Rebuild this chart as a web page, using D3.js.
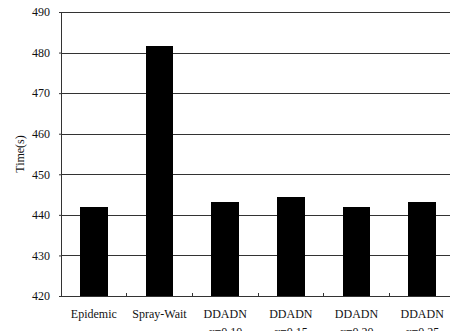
<!DOCTYPE html>
<html>
<head>
<meta charset="utf-8">
<script src="https://cdn.jsdelivr.net/npm/d3@7"></script>
<style>
  html, body { margin: 0; padding: 0; background: #fff; overflow: hidden; }
  svg { display: block; }
  text { font-family: "Liberation Serif", "Times New Roman", serif; fill: #111; }
</style>
</head>
<body>
<svg id="chart" width="450" height="331"></svg>
<script>
// Delivery time per routing scheme
const categories = ["Epidemic", "Spray-Wait", "DDADN", "DDADN", "DDADN", "DDADN"];
const subLabels  = ["", "", "α=0.10", "α=0.15", "α=0.20", "α=0.25"];
const times      = [442.0, 481.6, 443.1, 444.5, 442.0, 443.1];
const yTicks     = [420, 430, 440, 450, 460, 470, 480, 490];

const svg = d3.select("#chart");
const plotLeft = 61, plotRight = 455, plotTop = 12, plotBottom = 296;

const x = d3.scaleBand()
  .domain(d3.range(categories.length))
  .range([plotLeft, plotRight])
  .paddingInner(0)
  .paddingOuter(0);

const y = d3.scaleLinear().domain([420, 490]).range([plotBottom, plotTop]);

// horizontal gridlines
svg.append("g")
  .selectAll("line")
  .data(yTicks.filter(d => d > 420))
  .join("line")
  .attr("x1", plotLeft).attr("x2", plotRight)
  .attr("y1", d => Math.round(y(d)) + 0.5).attr("y2", d => Math.round(y(d)) + 0.5)
  .attr("stroke", "#333").attr("stroke-width", 1);

// bars
const barW = x.bandwidth() * 0.42;
svg.append("g")
  .selectAll("rect")
  .data(times)
  .join("rect")
  .attr("x", (d, i) => x(i) + (x.bandwidth() - barW) / 2)
  .attr("width", barW)
  .attr("y", d => y(d))
  .attr("height", d => plotBottom - y(d))
  .attr("fill", "#000")
  .attr("shape-rendering", "crispEdges");

// y axis
const yAxis = d3.axisLeft(y).tickValues(yTicks).tickSize(2).tickPadding(9).tickFormat(d3.format("d"));
const gy = svg.append("g").attr("transform", `translate(${plotLeft},0)`).call(yAxis);
gy.select(".domain").attr("stroke", "#333").attr("shape-rendering", "crispEdges");
gy.selectAll(".tick line").attr("stroke", "#333");
gy.selectAll("text").attr("font-size", 12).attr("fill", "#333")
  .style("font-family", "'Liberation Serif', serif");

// x axis baseline with inner ticks at category boundaries
svg.append("line")
  .attr("x1", plotLeft).attr("x2", plotRight)
  .attr("y1", plotBottom).attr("y2", plotBottom)
  .attr("stroke", "#333").attr("shape-rendering", "crispEdges");
svg.append("g")
  .selectAll("line")
  .data(d3.range(1, categories.length))
  .join("line")
  .attr("x1", i => x(i)).attr("x2", i => x(i))
  .attr("y1", plotBottom).attr("y2", plotBottom - 3)
  .attr("stroke", "#333").attr("shape-rendering", "crispEdges");

// category labels
svg.append("g")
  .selectAll("text")
  .data(categories)
  .join("text")
  .attr("x", (d, i) => x(i) + x.bandwidth() / 2)
  .attr("y", 318)
  .attr("text-anchor", "middle")
  .attr("font-size", 12)
  .text(d => d);

svg.append("g")
  .selectAll("text")
  .data(subLabels)
  .join("text")
  .attr("x", (d, i) => x(i) + x.bandwidth() / 2)
  .attr("y", 336)
  .attr("text-anchor", "middle")
  .attr("font-size", 12)
  .text(d => d);

// y axis title
svg.append("text")
  .attr("transform", `translate(24,154) rotate(-90)`)
  .attr("text-anchor", "middle")
  .attr("font-size", 12)
  .text("Time(s)");
</script>
</body>
</html>
